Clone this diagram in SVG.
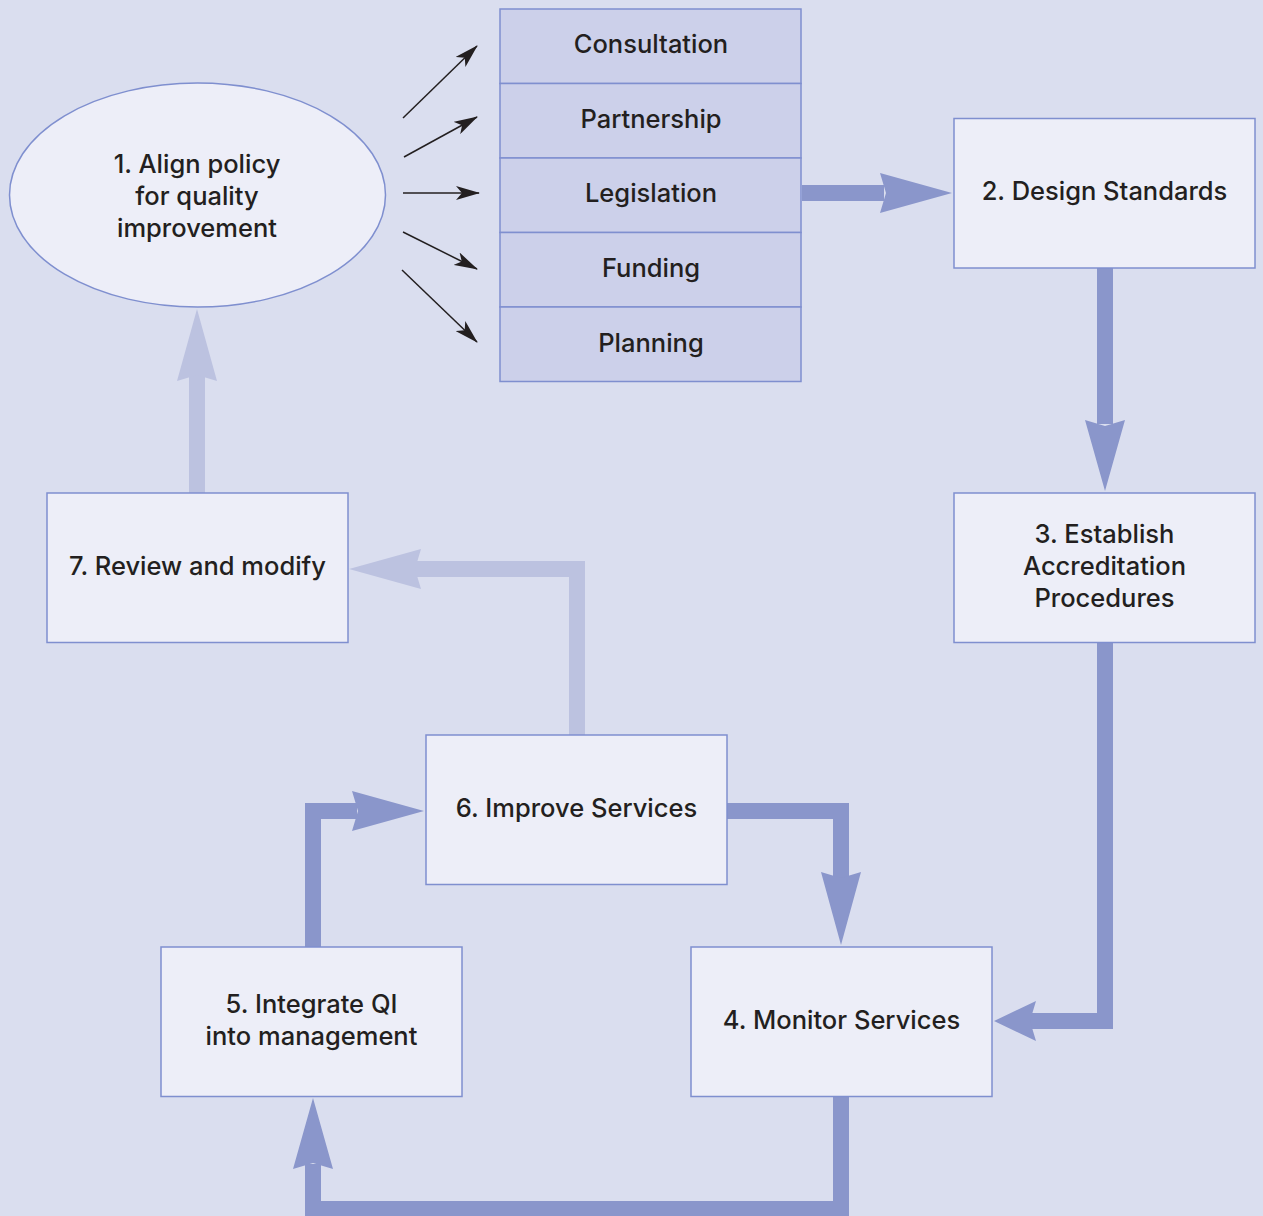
<svg xmlns="http://www.w3.org/2000/svg" width="1263" height="1216" viewBox="0 0 1263 1216">
<defs>
<style>
.node{fill:#edeef8;stroke:#7f8fcf;stroke-width:1.5}
.cell{fill:#ccd0ea;stroke:#7f8fcf;stroke-width:1.5}
.t{font-family:Inter,"Liberation Sans",Arial,sans-serif;font-weight:500;font-size:25.5px;fill:#231f20;text-anchor:middle}
.dk{fill:none;stroke:#8a96cb;stroke-width:16}
.dkh{fill:#8a96cb}
.lt{fill:none;stroke:#bcc2e0;stroke-width:16}
.lth{fill:#bcc2e0}
.thin{stroke:#231f20;stroke-width:1.5;fill:none;marker-end:url(#ah)}
</style>
<marker id="ah" viewBox="0 0 24 14" refX="23" refY="7" markerWidth="24" markerHeight="14" markerUnits="userSpaceOnUse" orient="auto">
<path d="M0,0 L24,7 L0,14 L6,7 Z" fill="#231f20"/>
</marker>
</defs>
<rect x="0" y="0" width="1263" height="1216" fill="#dadeef"/>

<g id="connectors">
<path class="dk" d="M802,193 H884"/>
<path class="dkh" d="M880,173 L952,193 L880,213 L886,193 Z"/>
<path class="dk" d="M1105,268 V424"/>
<path class="dkh" d="M1085,420 L1105,491 L1125,420 L1105,426 Z"/>
<path class="dk" d="M1105,642 V1021 H1030"/>
<path class="dkh" d="M1036,1001 L994,1021 L1036,1041 L1030,1021 Z"/>
<path class="dk" d="M841,1096 V1209 H313 V1164"/>
<path class="dkh" d="M293,1169 L313,1098 L333,1169 L313,1163 Z"/>
<path class="dk" d="M313,947 V811 H357"/>
<path class="dkh" d="M352,791 L424,811 L352,831 L358,811 Z"/>
<path class="dk" d="M727,811 H841 V878"/>
<path class="dkh" d="M821,872 L841,945 L861,872 L841,878 Z"/>
<path class="lt" d="M577,735 V569 H415"/>
<path class="lth" d="M421,549 L349,569 L421,589 L415,569 Z"/>
<path class="lt" d="M197,493 V375"/>
<path class="lth" d="M177,381 L197,309 L217,381 L197,375 Z"/>
<line class="thin" x1="403" y1="118" x2="477" y2="46"/>
<line class="thin" x1="404" y1="157" x2="477" y2="117"/>
<line class="thin" x1="403" y1="193" x2="479" y2="193"/>
<line class="thin" x1="403" y1="232" x2="477" y2="269"/>
<line class="thin" x1="402" y1="270" x2="477" y2="342"/>
</g>

<g id="node1">
<ellipse class="node" cx="197.5" cy="195" rx="188" ry="112"/>
<text class="t" x="197" y="173">1. Align policy</text>
<text class="t" x="197" y="205">for quality</text>
<text class="t" x="197" y="237">improvement</text>
</g>

<g id="stack">
<g id="consultation"><rect class="cell" x="500" y="9" width="301" height="74.5"/><text class="t" x="651" y="53">Consultation</text></g>
<g id="partnership"><rect class="cell" x="500" y="83.5" width="301" height="74.5"/><text class="t" x="651" y="128">Partnership</text></g>
<g id="legislation"><rect class="cell" x="500" y="158" width="301" height="74.5"/><text class="t" x="651" y="202">Legislation</text></g>
<g id="funding"><rect class="cell" x="500" y="232.5" width="301" height="74.5"/><text class="t" x="651" y="277">Funding</text></g>
<g id="planning"><rect class="cell" x="500" y="307" width="301" height="74.5"/><text class="t" x="651" y="352">Planning</text></g>
</g>

<g id="node2">
<rect class="node" x="954" y="118.5" width="301" height="149.5"/>
<text class="t" x="1104.5" y="200">2. Design Standards</text>
</g>

<g id="node3">
<rect class="node" x="954" y="493" width="301" height="149.5"/>
<text class="t" x="1104.5" y="543">3. Establish</text>
<text class="t" x="1104.5" y="575">Accreditation</text>
<text class="t" x="1104.5" y="607">Procedures</text>
</g>

<g id="node4">
<rect class="node" x="691" y="947" width="301" height="149.5"/>
<text class="t" x="841.5" y="1029">4. Monitor Services</text>
</g>

<g id="node5">
<rect class="node" x="161" y="947" width="301" height="149.5"/>
<text class="t" x="311.5" y="1013">5. Integrate QI</text>
<text class="t" x="311.5" y="1045">into management</text>
</g>

<g id="node6">
<rect class="node" x="426" y="735" width="301" height="149.5"/>
<text class="t" x="576.5" y="817">6. Improve Services</text>
</g>

<g id="node7">
<rect class="node" x="47" y="493" width="301" height="149.5"/>
<text class="t" x="197.5" y="575">7. Review and modify</text>
</g>
</svg>
